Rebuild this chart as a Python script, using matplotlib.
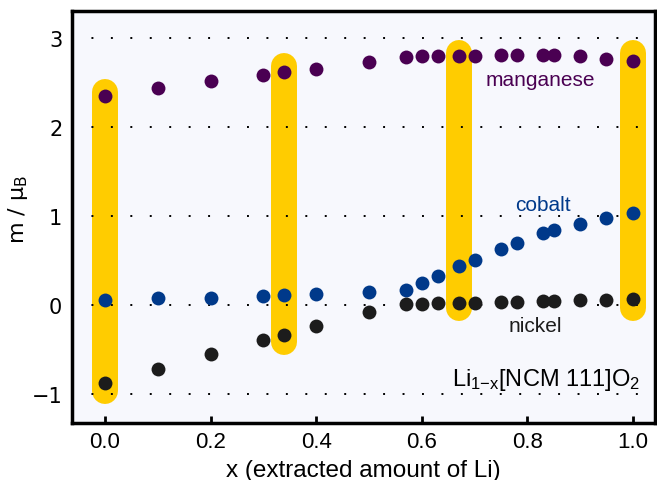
import numpy as np
import matplotlib
matplotlib.use('Agg')
import matplotlib.pyplot as plt

x = [0.0, 0.1, 0.2, 0.3, 0.34, 0.4, 0.5, 0.57, 0.6, 0.63, 0.67, 0.7,
     0.75, 0.78, 0.83, 0.85, 0.9, 0.95, 1.0]
manganese = [2.35, 2.43, 2.51, 2.58, 2.61, 2.65, 2.73, 2.78, 2.79, 2.79,
             2.80, 2.80, 2.81, 2.81, 2.81, 2.81, 2.79, 2.76, 2.74]
cobalt = [0.05, 0.07, 0.08, 0.10, 0.11, 0.12, 0.14, 0.16, 0.24, 0.32,
          0.43, 0.50, 0.63, 0.69, 0.80, 0.84, 0.91, 0.97, 1.03]
nickel = [-0.88, -0.72, -0.56, -0.40, -0.34, -0.24, -0.08, 0.01, 0.01, 0.02,
          0.02, 0.02, 0.03, 0.03, 0.04, 0.04, 0.05, 0.05, 0.06]

# highlighted compositions (yellow bars)
bar_x = [0.0, 0.34, 0.67, 1.0]
bar_lo = [-0.97, -0.42, -0.04, -0.04]
bar_hi = [2.39, 2.68, 2.83, 2.83]

grid_y = [-1, 0, 1, 2, 3]

c_mn = '#4a0052'
c_co = '#00398a'
c_ni = '#1c1c1c'
c_bar = '#ffcc00'

plt.rcParams['mathtext.fontset'] = 'custom'
plt.rcParams['mathtext.rm'] = 'Liberation Sans'
plt.rcParams['mathtext.it'] = 'Liberation Sans'
plt.rcParams['mathtext.sf'] = 'Liberation Sans'

fig = plt.figure(figsize=(6.57, 4.81), dpi=100)
ax = fig.add_axes([0.1096, 0.1185, 0.8874, 0.8565])
ax.set_facecolor('#f7f8fd')

for bx, lo, hi in zip(bar_x, bar_lo, bar_hi):
    ax.plot([bx, bx], [lo, hi], color=c_bar, lw=18.7,
            solid_capstyle='round', zorder=1)

for gy in grid_y:
    ax.axhline(gy, color='black', lw=1.4, linestyle=(0, (1, 9)), zorder=2)

ax.plot(x, manganese, 'o', color=c_mn, ms=10, mec='none', zorder=3)
ax.plot(x, cobalt, 'o', color=c_co, ms=10, mec='none', zorder=3)
ax.plot(x, nickel, 'o', color=c_ni, ms=10, mec='none', zorder=3)

lab = dict(family='Liberation Sans', fontsize=15, ha='center', va='center')
ax.text(0.825, 2.53, 'manganese', color=c_mn, **lab)
ax.text(0.83, 1.13, 'cobalt', color=c_co, **lab)
ax.text(0.815, -0.23, 'nickel', color=c_ni, **lab)
ax.text(1.015, -0.84, r'Li$_{1\mathsf{-x}}$[NCM 111]O$_2$', color='black',
        family='Liberation Sans', fontsize=17, ha='right', va='center')

ax.set_xlim(-0.0625, 1.042)
ax.set_ylim(-1.33, 3.3)
ax.set_xticks([0.0, 0.2, 0.4, 0.6, 0.8, 1.0])
ax.set_xticklabels(['0.0', '0.2', '0.4', '0.6', '0.8', '1.0'],
                   family='Liberation Sans', fontsize=16)
ax.set_yticks([-1, 0, 1, 2, 3])
ax.set_yticklabels(['\u22121', '0', '1', '2', '3'],
                   family='DejaVu Sans', fontsize=15)
ax.tick_params(axis='x', direction='in', length=5, width=2, pad=6)
ax.tick_params(axis='y', length=0, pad=7)
for s in ax.spines.values():
    s.set_linewidth(2.5)

ax.set_xlabel('x (extracted amount of Li)', family='Liberation Sans',
              fontsize=17.5, labelpad=5)
ax.set_ylabel(r'm / $\mathregular{\mu_B}$', family='DejaVu Sans',
              fontsize=16)
ax.yaxis.set_label_coords(-0.072, 0.52)

fig.savefig('out.png', dpi=100)
